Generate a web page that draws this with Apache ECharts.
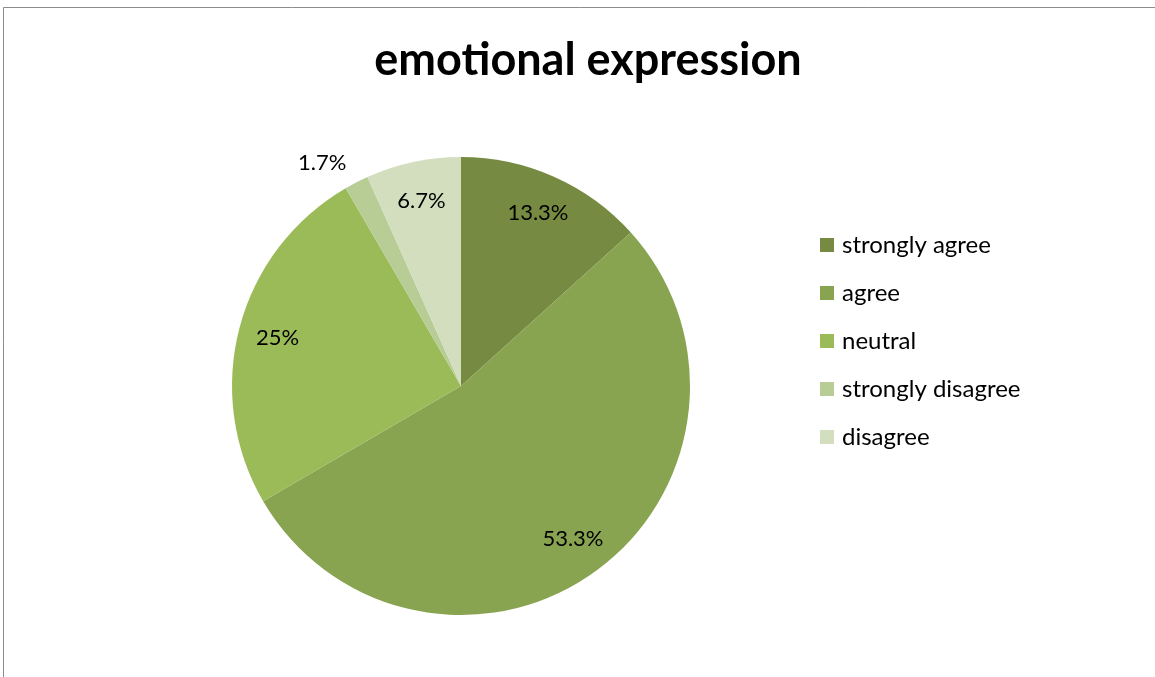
<!DOCTYPE html>
<html>
<head>
<meta charset="utf-8">
<style>
  html, body { margin: 0; padding: 0; background: #ffffff; }
  #chart { width: 1155px; height: 677px; }
</style>
<script src="https://cdn.jsdelivr.net/npm/echarts@6/dist/echarts.min.js"></script>
</head>
<body>
<div id="chart"></div>
<script>
// Survey responses for "emotional expression" (percent of respondents)
const categories = ['strongly agree', 'agree', 'neutral', 'strongly disagree', 'disagree'];
const values = [13.3, 53.3, 25, 1.7, 6.7];
const colors = ['#778A41', '#89A450', '#9BBB59', '#B8CC95', '#D3DEBF'];

const FONT = 'Lato, "Open Sans", sans-serif';
const cx = 461, cy = 386, R = 229;

const chart = echarts.init(document.getElementById('chart'), null, { renderer: 'canvas' });

const sliceData = categories.map((name, i) => ({
  name: name,
  value: values[i],
  itemStyle: { color: colors[i] }
}));

// Transparent ring used only to place the percentage labels further out
const labelData = categories.map((name, i) => {
  const d = { name: name, value: values[i] };
  if (values[i] < 3) {
    d.label = { position: 'outside' };
    d.labelLine = { show: false, length: 22, length2: -5 };
  }
  return d;
});

chart.setOption({
  backgroundColor: '#ffffff',
  animation: false,
  title: {
    text: 'emotional expression',
    left: 583,
    top: 33,
    textAlign: 'center',
    textStyle: { fontFamily: FONT, fontWeight: 'bold', fontSize: 45, color: '#000000' }
  },
  legend: {
    orient: 'vertical',
    left: 815,
    top: 227,
    itemWidth: 14,
    itemHeight: 14,
    itemGap: 22,
    icon: 'rect',
    data: categories,
    selectedMode: false,
    textStyle: { fontFamily: FONT, fontSize: 24, color: '#000000', lineHeight: 26, padding: [0, 0, 0, 3] }
  },
  graphic: [{
    type: 'rect',
    silent: true,
    z: -1,
    shape: { x: 3.5, y: 7.5, width: 1300, height: 900 },
    style: { fill: 'none', stroke: '#8c8c8c', lineWidth: 1 }
  }],
  series: [
    {
      type: 'pie',
      center: [cx, cy],
      radius: [0, R],
      startAngle: 90,
      clockwise: true,
      silent: true,
      label: { show: false },
      labelLine: { show: false },
      itemStyle: { borderWidth: 0 },
      data: sliceData
    },
    {
      type: 'pie',
      center: [cx, cy],
      radius: [R * 0.63, R],
      startAngle: 90,
      clockwise: true,
      silent: true,
      legendHoverLink: false,
      itemStyle: { color: 'rgba(0,0,0,0)', borderWidth: 0 },
      label: {
        show: true,
        position: 'inside',
        formatter: p => p.value + '%',
        fontFamily: FONT,
        fontSize: 22,
        color: '#000000'
      },
      labelLine: { show: false },
      data: labelData
    }
  ]
});
</script>
</body>
</html>
